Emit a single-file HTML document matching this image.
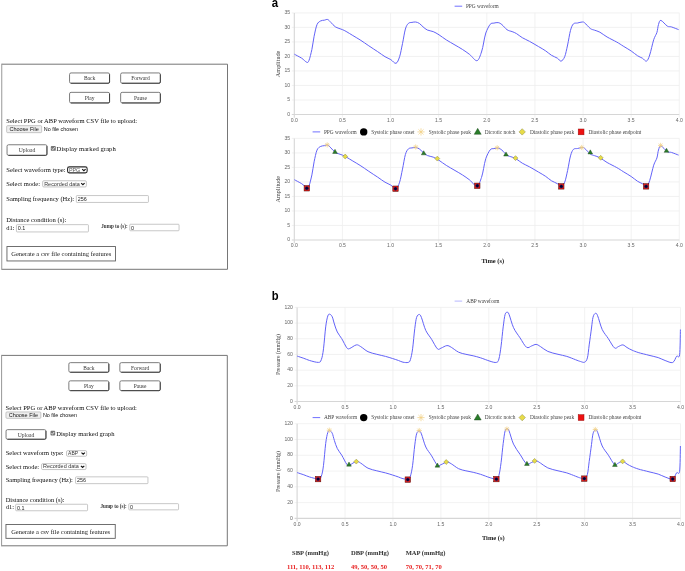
<!DOCTYPE html>
<html><head><meta charset="utf-8"><title>PPG/ABP</title><style>
*{box-sizing:border-box}
html,body{margin:0;padding:0;background:#fff;width:685px;height:571px;overflow:hidden;position:relative}
body{filter:blur(0.3px)}
#ch{position:absolute;left:0;top:0}
.tk{font-family:"Liberation Sans",sans-serif;font-size:5.1px;fill:#666}
.lg{font-family:"Liberation Serif",serif;font-size:5.35px;fill:#444}
.pl{font-family:"Liberation Sans",sans-serif;font-size:13px;font-weight:bold;fill:#000}
.yt{font-family:"Liberation Serif",serif;font-size:6.2px;fill:#444}
.yt2{font-family:"Liberation Serif",serif;font-size:5.8px;fill:#444}
.xt{font-family:"Liberation Serif",serif;font-size:6.5px;font-weight:bold;fill:#222}
.th{font-family:"Liberation Serif",serif;font-size:6.55px;font-weight:bold;fill:#333}
.td{font-family:"Liberation Serif",serif;font-size:6.55px;font-weight:bold;fill:#e82020}
.box{position:absolute;border:1px solid #8a8a8a;border-left-color:#adadad}
.t{position:absolute;font-family:"Liberation Serif",serif;white-space:nowrap;color:#0c0c0c;line-height:1}
.s{position:absolute;font-family:"Liberation Sans",sans-serif;white-space:nowrap;color:#111;line-height:1}
.btn{position:absolute;border:0.9px solid #8c8c8c;border-right-color:#3a3a3a;border-bottom-color:#3a3a3a;border-radius:1.6px;background:#fff}
.gen{position:absolute;border:0.9px solid #606060;background:#fff}
.fb{position:absolute;border:0.7px solid #b0b0b0;background:#efefef;border-radius:1px}
.inp{position:absolute;border:0.7px solid #b4b4b4;background:#fff;border-radius:0.8px}
.sel{position:absolute;border:0.7px solid #a8a8a8;background:#fff;border-radius:1.2px}
.selF{position:absolute;border:1.1px solid #2a2a2a;background:#fff;border-radius:1.8px}
.cb{position:absolute;background:#767676;border-radius:0.9px}
.in{position:absolute;white-space:nowrap;line-height:1}
.sv{position:absolute}
</style></head>
<body>
<svg class="sv" style="left:0;top:0" width="230" height="571" viewBox="0 0 230 571">
<path d="M1.75,64.20H227.50V269.30H1.75" fill="none" stroke="#767676" stroke-width="1"/>
<path d="M1.75,63.70V269.80" fill="none" stroke="#989898" stroke-width="1"/>
<rect x="69.55" y="72.95" width="40.00" height="10.30" rx="1.5" fill="#fff" stroke="#6e6e6e" stroke-width="0.9" />
<path d="M109.55,74.30V82.05Q109.55,83.25 108.35,83.25H70.90" fill="none" stroke="#3a3a3a" stroke-width="0.9"/>
<rect x="120.65" y="72.95" width="39.70" height="10.30" rx="1.5" fill="#fff" stroke="#6e6e6e" stroke-width="0.9" />
<path d="M160.35,74.30V82.05Q160.35,83.25 159.15,83.25H122.00" fill="none" stroke="#3a3a3a" stroke-width="0.9"/>
<rect x="69.55" y="92.35" width="40.00" height="10.60" rx="1.5" fill="#fff" stroke="#6e6e6e" stroke-width="0.9" />
<path d="M109.55,93.70V101.75Q109.55,102.95 108.35,102.95H70.90" fill="none" stroke="#3a3a3a" stroke-width="0.9"/>
<rect x="120.65" y="92.35" width="39.70" height="10.60" rx="1.5" fill="#fff" stroke="#6e6e6e" stroke-width="0.9" />
<path d="M160.35,93.70V101.75Q160.35,102.95 159.15,102.95H122.00" fill="none" stroke="#3a3a3a" stroke-width="0.9"/>
<rect x="7.05" y="144.75" width="39.90" height="10.60" rx="1.5" fill="#fff" stroke="#6e6e6e" stroke-width="0.9" />
<path d="M46.95,146.10V154.15Q46.95,155.35 45.75,155.35H8.40" fill="none" stroke="#3a3a3a" stroke-width="0.9"/>
<rect x="6.95" y="246.55" width="108.60" height="14.40" rx="0" fill="#fff" stroke="#606060" stroke-width="0.9" />
<rect x="6.65" y="125.65" width="35.00" height="7.00" rx="1" fill="#efefef" stroke="#b0b0b0" stroke-width="0.7" />
<rect x="76.35" y="195.55" width="72.10" height="6.90" rx="0.8" fill="#fff" stroke="#b0b0b0" stroke-width="0.7" />
<rect x="16.45" y="224.65" width="72.00" height="7.30" rx="0.8" fill="#fff" stroke="#b0b0b0" stroke-width="0.7" />
<rect x="129.75" y="224.25" width="49.30" height="6.50" rx="0.8" fill="#fff" stroke="#b0b0b0" stroke-width="0.7" />
<rect x="67.55" y="166.85" width="19.60" height="6.00" rx="1.8" fill="#fff" stroke="#2a2a2a" stroke-width="1.1" />
<polyline points="82.20,169.05 83.90,170.65 85.60,169.05" stroke="#111" stroke-width="1.15" fill="none"/>
<rect x="42.65" y="180.75" width="43.70" height="6.20" rx="1.2" fill="#fff" stroke="#aaaaaa" stroke-width="0.7" />
<polyline points="81.20,183.05 82.90,184.65 84.60,183.05" stroke="#111" stroke-width="1.15" fill="none"/>
<rect x="50.8" y="146.1" width="5.00" height="4.70" rx="0.9" fill="#767676"/>
<polyline points="51.90,148.54 52.90,149.58 54.70,147.28" stroke="#fff" stroke-width="0.8" fill="none"/>
<path d="M1.60,355.40H227.30V545.80H1.60" fill="none" stroke="#767676" stroke-width="1"/>
<path d="M1.60,354.90V546.30" fill="none" stroke="#989898" stroke-width="1"/>
<rect x="68.85" y="362.65" width="40.00" height="9.60" rx="1.5" fill="#fff" stroke="#6e6e6e" stroke-width="0.9" />
<path d="M108.85,364.00V371.05Q108.85,372.25 107.65,372.25H70.20" fill="none" stroke="#3a3a3a" stroke-width="0.9"/>
<rect x="119.85" y="362.65" width="40.40" height="9.60" rx="1.5" fill="#fff" stroke="#6e6e6e" stroke-width="0.9" />
<path d="M160.25,364.00V371.05Q160.25,372.25 159.05,372.25H121.20" fill="none" stroke="#3a3a3a" stroke-width="0.9"/>
<rect x="68.85" y="380.85" width="40.00" height="9.80" rx="1.5" fill="#fff" stroke="#6e6e6e" stroke-width="0.9" />
<path d="M108.85,382.20V389.45Q108.85,390.65 107.65,390.65H70.20" fill="none" stroke="#3a3a3a" stroke-width="0.9"/>
<rect x="119.85" y="380.85" width="40.40" height="9.80" rx="1.5" fill="#fff" stroke="#6e6e6e" stroke-width="0.9" />
<path d="M160.25,382.20V389.45Q160.25,390.65 159.05,390.65H121.20" fill="none" stroke="#3a3a3a" stroke-width="0.9"/>
<rect x="6.05" y="429.65" width="39.90" height="9.60" rx="1.5" fill="#fff" stroke="#6e6e6e" stroke-width="0.9" />
<path d="M45.95,431.00V438.05Q45.95,439.25 44.75,439.25H7.40" fill="none" stroke="#3a3a3a" stroke-width="0.9"/>
<rect x="5.95" y="524.55" width="109.30" height="13.80" rx="0" fill="#fff" stroke="#606060" stroke-width="0.9" />
<rect x="5.95" y="411.95" width="34.90" height="6.40" rx="1" fill="#efefef" stroke="#b0b0b0" stroke-width="0.7" />
<rect x="75.55" y="476.85" width="72.40" height="6.80" rx="0.8" fill="#fff" stroke="#b0b0b0" stroke-width="0.7" />
<rect x="15.65" y="504.25" width="71.90" height="6.50" rx="0.8" fill="#fff" stroke="#b0b0b0" stroke-width="0.7" />
<rect x="128.75" y="503.65" width="49.80" height="6.20" rx="0.8" fill="#fff" stroke="#b0b0b0" stroke-width="0.7" />
<rect x="66.55" y="450.65" width="20.10" height="5.60" rx="1.2" fill="#fff" stroke="#aaaaaa" stroke-width="0.7" />
<polyline points="81.50,452.65 83.20,454.25 84.90,452.65" stroke="#111" stroke-width="1.15" fill="none"/>
<rect x="41.55" y="463.65" width="44.50" height="5.90" rx="1.2" fill="#fff" stroke="#aaaaaa" stroke-width="0.7" />
<polyline points="80.90,465.80 82.60,467.40 84.30,465.80" stroke="#111" stroke-width="1.15" fill="none"/>
<rect x="50.5" y="430.8" width="4.70" height="4.70" rx="0.9" fill="#767676"/>
<polyline points="51.53,433.24 52.47,434.28 54.17,431.98" stroke="#fff" stroke-width="0.8" fill="none"/>
</svg>
<div class="in" style="left:69.10px;top:75.32px;width:40.90px;text-align:center;font:normal 5.5px 'Liberation Serif',serif;color:#333">Back</div>
<div class="in" style="left:120.20px;top:75.32px;width:40.60px;text-align:center;font:normal 5.5px 'Liberation Serif',serif;color:#333">Forward</div>
<div class="in" style="left:69.10px;top:94.87px;width:40.90px;text-align:center;font:normal 5.5px 'Liberation Serif',serif;color:#333">Play</div>
<div class="in" style="left:120.20px;top:94.87px;width:40.60px;text-align:center;font:normal 5.5px 'Liberation Serif',serif;color:#333">Pause</div>
<div class="in" style="left:6.60px;top:147.22px;width:40.80px;text-align:center;font:normal 5.6px 'Liberation Serif',serif;color:#333">Upload</div>
<div class="in" style="left:6.50px;top:250.45px;width:109.50px;text-align:center;font:normal 6.53px 'Liberation Serif',serif;color:#222">Generate a csv file containing features</div>
<div class="t" style="left:6.3px;top:117.9px;font-size:6.53px">Select PPG or ABP waveform CSV file to upload:</div>
<div class="s" style="left:43.8px;top:127.0px;font-size:5.4px">No file chosen</div>
<div class="t" style="left:56.6px;top:145.6px;font-size:6.66px">Display marked graph</div>
<div class="t" style="left:6.3px;top:166.6px;font-size:6.6px">Select waveform type:</div>
<div class="t" style="left:6.3px;top:181.2px;font-size:6.5px">Select mode:</div>
<div class="t" style="left:6.3px;top:195.7px;font-size:6.5px">Sampling frequency (Hz):</div>
<div class="t" style="left:6.3px;top:216.9px;font-size:6.58px">Distance condition (s):</div>
<div class="t" style="left:6.3px;top:225.0px;font-size:6.5px">d1:</div>
<div class="t" style="left:101.3px;top:224.4px;font-size:5.1px;font-weight:bold;color:#333">Jump to (s):</div>
<div class="in" style="left:6.30px;top:125.90px;width:35.70px;text-align:center;font:normal 5.5px 'Liberation Sans',sans-serif;color:#111">Choose File</div>
<div class="in" style="left:77.70px;top:196.10px;font:normal 5.4px 'Liberation Sans',sans-serif;color:#222">256</div>
<div class="in" style="left:17.80px;top:225.40px;font:normal 5.4px 'Liberation Sans',sans-serif;color:#222">0.1</div>
<div class="in" style="left:131.10px;top:224.60px;font:normal 5.4px 'Liberation Sans',sans-serif;color:#222">0</div>
<div class="in" style="left:68.90px;top:166.75px;font:normal 5.4px 'Liberation Sans',sans-serif;color:#555">PPG</div>
<div class="in" style="left:44.20px;top:180.72px;font:normal 5.45px 'Liberation Sans',sans-serif;color:#333">Recorded data</div>
<div class="in" style="left:68.40px;top:364.72px;width:40.90px;text-align:center;font:normal 5.4px 'Liberation Serif',serif;color:#333">Back</div>
<div class="in" style="left:119.40px;top:364.72px;width:41.30px;text-align:center;font:normal 5.4px 'Liberation Serif',serif;color:#333">Forward</div>
<div class="in" style="left:68.40px;top:383.02px;width:40.90px;text-align:center;font:normal 5.4px 'Liberation Serif',serif;color:#333">Play</div>
<div class="in" style="left:119.40px;top:383.02px;width:41.30px;text-align:center;font:normal 5.4px 'Liberation Serif',serif;color:#333">Pause</div>
<div class="in" style="left:5.60px;top:431.62px;width:40.80px;text-align:center;font:normal 5.6px 'Liberation Serif',serif;color:#333">Upload</div>
<div class="in" style="left:5.50px;top:528.19px;width:110.20px;text-align:center;font:normal 6.45px 'Liberation Serif',serif;color:#222">Generate a csv file containing features</div>
<div class="t" style="left:5.6px;top:404.6px;font-size:6.55px">Select PPG or ABP waveform CSV file to upload:</div>
<div class="s" style="left:42.9px;top:413.2px;font-size:5.4px">No file chosen</div>
<div class="t" style="left:56.2px;top:430.6px;font-size:6.57px">Display marked graph</div>
<div class="t" style="left:5.7px;top:450.3px;font-size:6.45px">Select waveform type:</div>
<div class="t" style="left:5.7px;top:463.7px;font-size:6.45px">Select mode:</div>
<div class="t" style="left:5.7px;top:477px;font-size:6.45px">Sampling frequency (Hz):</div>
<div class="t" style="left:5.7px;top:497.2px;font-size:6.45px">Distance condition (s):</div>
<div class="t" style="left:5.7px;top:504.4px;font-size:6.45px">d1:</div>
<div class="t" style="left:100.5px;top:504.0px;font-size:5.1px;font-weight:bold;color:#333">Jump to (s):</div>
<div class="in" style="left:5.60px;top:411.90px;width:35.60px;text-align:center;font:normal 5.5px 'Liberation Sans',sans-serif;color:#111">Choose File</div>
<div class="in" style="left:76.90px;top:477.35px;font:normal 5.4px 'Liberation Sans',sans-serif;color:#222">256</div>
<div class="in" style="left:17.00px;top:504.60px;font:normal 5.4px 'Liberation Sans',sans-serif;color:#222">0.1</div>
<div class="in" style="left:130.10px;top:503.85px;font:normal 5.4px 'Liberation Sans',sans-serif;color:#222">0</div>
<div class="in" style="left:68.10px;top:449.94px;font:normal 5.0px 'Liberation Sans',sans-serif;color:#333">ABP</div>
<div class="in" style="left:43.10px;top:463.47px;font:normal 5.45px 'Liberation Sans',sans-serif;color:#333">Recorded data</div>
<svg id="ch" width="685" height="571" viewBox="0 0 685 571">
<defs><clipPath id="ca"><rect x="294" y="0" width="386" height="571"/></clipPath><clipPath id="cb"><rect x="297" y="0" width="384" height="571"/></clipPath></defs>
<text transform="translate(271.8,7.3) scale(0.88,1)" class="pl">a</text>
<text transform="translate(271.8,299.8) scale(0.86,1.05)" class="pl">b</text>
<line x1="291.8" x2="679.3" y1="12.90" y2="12.90" stroke="#efefef" stroke-width="0.8"/>
<text x="290.1" y="14.05" class="tk" text-anchor="end">35</text>
<line x1="291.8" x2="679.3" y1="27.41" y2="27.41" stroke="#efefef" stroke-width="0.8"/>
<text x="290.1" y="28.56" class="tk" text-anchor="end">30</text>
<line x1="291.8" x2="679.3" y1="41.93" y2="41.93" stroke="#efefef" stroke-width="0.8"/>
<text x="290.1" y="43.08" class="tk" text-anchor="end">25</text>
<line x1="291.8" x2="679.3" y1="56.44" y2="56.44" stroke="#efefef" stroke-width="0.8"/>
<text x="290.1" y="57.59" class="tk" text-anchor="end">20</text>
<line x1="291.8" x2="679.3" y1="70.96" y2="70.96" stroke="#efefef" stroke-width="0.8"/>
<text x="290.1" y="72.11" class="tk" text-anchor="end">15</text>
<line x1="291.8" x2="679.3" y1="85.47" y2="85.47" stroke="#efefef" stroke-width="0.8"/>
<text x="290.1" y="86.62" class="tk" text-anchor="end">10</text>
<line x1="291.8" x2="679.3" y1="99.99" y2="99.99" stroke="#efefef" stroke-width="0.8"/>
<text x="290.1" y="101.14" class="tk" text-anchor="end">5</text>
<text x="290.1" y="115.65" class="tk" text-anchor="end">0</text>
<line x1="342.43" x2="342.43" y1="12.9" y2="117.5" stroke="#efefef" stroke-width="0.8"/>
<line x1="390.55" x2="390.55" y1="12.9" y2="117.5" stroke="#efefef" stroke-width="0.8"/>
<line x1="438.67" x2="438.67" y1="12.9" y2="117.5" stroke="#efefef" stroke-width="0.8"/>
<line x1="486.80" x2="486.80" y1="12.9" y2="117.5" stroke="#efefef" stroke-width="0.8"/>
<line x1="534.92" x2="534.92" y1="12.9" y2="117.5" stroke="#efefef" stroke-width="0.8"/>
<line x1="583.05" x2="583.05" y1="12.9" y2="117.5" stroke="#efefef" stroke-width="0.8"/>
<line x1="631.17" x2="631.17" y1="12.9" y2="117.5" stroke="#efefef" stroke-width="0.8"/>
<line x1="679.30" x2="679.30" y1="12.9" y2="117.5" stroke="#efefef" stroke-width="0.8"/>
<text x="294.30" y="121.85" class="tk" text-anchor="middle">0.0</text>
<text x="342.43" y="121.85" class="tk" text-anchor="middle">0.5</text>
<text x="390.55" y="121.85" class="tk" text-anchor="middle">1.0</text>
<text x="438.67" y="121.85" class="tk" text-anchor="middle">1.5</text>
<text x="486.80" y="121.85" class="tk" text-anchor="middle">2.0</text>
<text x="534.92" y="121.85" class="tk" text-anchor="middle">2.5</text>
<text x="583.05" y="121.85" class="tk" text-anchor="middle">3.0</text>
<text x="631.17" y="121.85" class="tk" text-anchor="middle">3.5</text>
<text x="679.30" y="121.85" class="tk" text-anchor="middle">4.0</text>
<line x1="291.8" x2="679.3" y1="114.50" y2="114.50" stroke="#d6d6d6" stroke-width="1.1"/>
<line x1="294.30" x2="294.30" y1="12.9" y2="117.7" stroke="#d6d6d6" stroke-width="1.1"/>
<line x1="291.8" x2="679.3" y1="138.40" y2="138.40" stroke="#efefef" stroke-width="0.8"/>
<text x="290.1" y="139.55" class="tk" text-anchor="end">35</text>
<line x1="291.8" x2="679.3" y1="152.91" y2="152.91" stroke="#efefef" stroke-width="0.8"/>
<text x="290.1" y="154.06" class="tk" text-anchor="end">30</text>
<line x1="291.8" x2="679.3" y1="167.43" y2="167.43" stroke="#efefef" stroke-width="0.8"/>
<text x="290.1" y="168.58" class="tk" text-anchor="end">25</text>
<line x1="291.8" x2="679.3" y1="181.94" y2="181.94" stroke="#efefef" stroke-width="0.8"/>
<text x="290.1" y="183.09" class="tk" text-anchor="end">20</text>
<line x1="291.8" x2="679.3" y1="196.46" y2="196.46" stroke="#efefef" stroke-width="0.8"/>
<text x="290.1" y="197.61" class="tk" text-anchor="end">15</text>
<line x1="291.8" x2="679.3" y1="210.97" y2="210.97" stroke="#efefef" stroke-width="0.8"/>
<text x="290.1" y="212.12" class="tk" text-anchor="end">10</text>
<line x1="291.8" x2="679.3" y1="225.49" y2="225.49" stroke="#efefef" stroke-width="0.8"/>
<text x="290.1" y="226.64" class="tk" text-anchor="end">5</text>
<text x="290.1" y="241.15" class="tk" text-anchor="end">0</text>
<line x1="342.43" x2="342.43" y1="138.4" y2="243.0" stroke="#efefef" stroke-width="0.8"/>
<line x1="390.55" x2="390.55" y1="138.4" y2="243.0" stroke="#efefef" stroke-width="0.8"/>
<line x1="438.67" x2="438.67" y1="138.4" y2="243.0" stroke="#efefef" stroke-width="0.8"/>
<line x1="486.80" x2="486.80" y1="138.4" y2="243.0" stroke="#efefef" stroke-width="0.8"/>
<line x1="534.92" x2="534.92" y1="138.4" y2="243.0" stroke="#efefef" stroke-width="0.8"/>
<line x1="583.05" x2="583.05" y1="138.4" y2="243.0" stroke="#efefef" stroke-width="0.8"/>
<line x1="631.17" x2="631.17" y1="138.4" y2="243.0" stroke="#efefef" stroke-width="0.8"/>
<line x1="679.30" x2="679.30" y1="138.4" y2="243.0" stroke="#efefef" stroke-width="0.8"/>
<text x="294.30" y="247.35" class="tk" text-anchor="middle">0.0</text>
<text x="342.43" y="247.35" class="tk" text-anchor="middle">0.5</text>
<text x="390.55" y="247.35" class="tk" text-anchor="middle">1.0</text>
<text x="438.67" y="247.35" class="tk" text-anchor="middle">1.5</text>
<text x="486.80" y="247.35" class="tk" text-anchor="middle">2.0</text>
<text x="534.92" y="247.35" class="tk" text-anchor="middle">2.5</text>
<text x="583.05" y="247.35" class="tk" text-anchor="middle">3.0</text>
<text x="631.17" y="247.35" class="tk" text-anchor="middle">3.5</text>
<text x="679.30" y="247.35" class="tk" text-anchor="middle">4.0</text>
<line x1="291.8" x2="679.3" y1="240.00" y2="240.00" stroke="#d6d6d6" stroke-width="1.1"/>
<line x1="294.30" x2="294.30" y1="138.4" y2="243.2" stroke="#d6d6d6" stroke-width="1.1"/>
<line x1="294.6" x2="680.5" y1="307.40" y2="307.40" stroke="#efefef" stroke-width="0.8"/>
<text x="292.9" y="308.55" class="tk" text-anchor="end">120</text>
<line x1="294.6" x2="680.5" y1="323.09" y2="323.09" stroke="#efefef" stroke-width="0.8"/>
<text x="292.9" y="324.24" class="tk" text-anchor="end">100</text>
<line x1="294.6" x2="680.5" y1="338.78" y2="338.78" stroke="#efefef" stroke-width="0.8"/>
<text x="292.9" y="339.93" class="tk" text-anchor="end">80</text>
<line x1="294.6" x2="680.5" y1="354.48" y2="354.48" stroke="#efefef" stroke-width="0.8"/>
<text x="292.9" y="355.62" class="tk" text-anchor="end">60</text>
<line x1="294.6" x2="680.5" y1="370.17" y2="370.17" stroke="#efefef" stroke-width="0.8"/>
<text x="292.9" y="371.32" class="tk" text-anchor="end">40</text>
<line x1="294.6" x2="680.5" y1="385.86" y2="385.86" stroke="#efefef" stroke-width="0.8"/>
<text x="292.9" y="387.01" class="tk" text-anchor="end">20</text>
<text x="292.9" y="402.70" class="tk" text-anchor="end">0</text>
<line x1="345.03" x2="345.03" y1="307.4" y2="404.6" stroke="#efefef" stroke-width="0.8"/>
<line x1="392.95" x2="392.95" y1="307.4" y2="404.6" stroke="#efefef" stroke-width="0.8"/>
<line x1="440.88" x2="440.88" y1="307.4" y2="404.6" stroke="#efefef" stroke-width="0.8"/>
<line x1="488.80" x2="488.80" y1="307.4" y2="404.6" stroke="#efefef" stroke-width="0.8"/>
<line x1="536.73" x2="536.73" y1="307.4" y2="404.6" stroke="#efefef" stroke-width="0.8"/>
<line x1="584.65" x2="584.65" y1="307.4" y2="404.6" stroke="#efefef" stroke-width="0.8"/>
<line x1="632.58" x2="632.58" y1="307.4" y2="404.6" stroke="#efefef" stroke-width="0.8"/>
<line x1="680.50" x2="680.50" y1="307.4" y2="404.6" stroke="#efefef" stroke-width="0.8"/>
<text x="297.10" y="408.90" class="tk" text-anchor="middle">0.0</text>
<text x="345.03" y="408.90" class="tk" text-anchor="middle">0.5</text>
<text x="392.95" y="408.90" class="tk" text-anchor="middle">1.0</text>
<text x="440.88" y="408.90" class="tk" text-anchor="middle">1.5</text>
<text x="488.80" y="408.90" class="tk" text-anchor="middle">2.0</text>
<text x="536.73" y="408.90" class="tk" text-anchor="middle">2.5</text>
<text x="584.65" y="408.90" class="tk" text-anchor="middle">3.0</text>
<text x="632.58" y="408.90" class="tk" text-anchor="middle">3.5</text>
<text x="680.50" y="408.90" class="tk" text-anchor="middle">4.0</text>
<line x1="294.6" x2="680.5" y1="401.55" y2="401.55" stroke="#d6d6d6" stroke-width="1.1"/>
<line x1="297.10" x2="297.10" y1="307.4" y2="404.8" stroke="#d6d6d6" stroke-width="1.1"/>
<line x1="294.6" x2="680.5" y1="423.70" y2="423.70" stroke="#efefef" stroke-width="0.8"/>
<text x="292.9" y="424.85" class="tk" text-anchor="end">120</text>
<line x1="294.6" x2="680.5" y1="439.48" y2="439.48" stroke="#efefef" stroke-width="0.8"/>
<text x="292.9" y="440.63" class="tk" text-anchor="end">100</text>
<line x1="294.6" x2="680.5" y1="455.27" y2="455.27" stroke="#efefef" stroke-width="0.8"/>
<text x="292.9" y="456.42" class="tk" text-anchor="end">80</text>
<line x1="294.6" x2="680.5" y1="471.05" y2="471.05" stroke="#efefef" stroke-width="0.8"/>
<text x="292.9" y="472.20" class="tk" text-anchor="end">60</text>
<line x1="294.6" x2="680.5" y1="486.83" y2="486.83" stroke="#efefef" stroke-width="0.8"/>
<text x="292.9" y="487.98" class="tk" text-anchor="end">40</text>
<line x1="294.6" x2="680.5" y1="502.62" y2="502.62" stroke="#efefef" stroke-width="0.8"/>
<text x="292.9" y="503.77" class="tk" text-anchor="end">20</text>
<text x="292.9" y="519.55" class="tk" text-anchor="end">0</text>
<line x1="345.03" x2="345.03" y1="423.7" y2="521.4" stroke="#efefef" stroke-width="0.8"/>
<line x1="392.95" x2="392.95" y1="423.7" y2="521.4" stroke="#efefef" stroke-width="0.8"/>
<line x1="440.88" x2="440.88" y1="423.7" y2="521.4" stroke="#efefef" stroke-width="0.8"/>
<line x1="488.80" x2="488.80" y1="423.7" y2="521.4" stroke="#efefef" stroke-width="0.8"/>
<line x1="536.73" x2="536.73" y1="423.7" y2="521.4" stroke="#efefef" stroke-width="0.8"/>
<line x1="584.65" x2="584.65" y1="423.7" y2="521.4" stroke="#efefef" stroke-width="0.8"/>
<line x1="632.58" x2="632.58" y1="423.7" y2="521.4" stroke="#efefef" stroke-width="0.8"/>
<line x1="680.50" x2="680.50" y1="423.7" y2="521.4" stroke="#efefef" stroke-width="0.8"/>
<text x="297.10" y="525.75" class="tk" text-anchor="middle">0.0</text>
<text x="345.03" y="525.75" class="tk" text-anchor="middle">0.5</text>
<text x="392.95" y="525.75" class="tk" text-anchor="middle">1.0</text>
<text x="440.88" y="525.75" class="tk" text-anchor="middle">1.5</text>
<text x="488.80" y="525.75" class="tk" text-anchor="middle">2.0</text>
<text x="536.73" y="525.75" class="tk" text-anchor="middle">2.5</text>
<text x="584.65" y="525.75" class="tk" text-anchor="middle">3.0</text>
<text x="632.58" y="525.75" class="tk" text-anchor="middle">3.5</text>
<text x="680.50" y="525.75" class="tk" text-anchor="middle">4.0</text>
<line x1="294.6" x2="680.5" y1="518.40" y2="518.40" stroke="#d6d6d6" stroke-width="1.1"/>
<line x1="297.10" x2="297.10" y1="423.7" y2="521.6" stroke="#d6d6d6" stroke-width="1.1"/>
<line x1="454.6" x2="462.2" y1="6.2" y2="6.2" stroke="#7070ff" stroke-width="1"/><text x="465.9" y="7.9" class="lg">PPG waveform</text>
<line x1="454.6" x2="462.2" y1="301.1" y2="301.1" stroke="#b8b8ff" stroke-width="1"/><text x="466.3" y="302.9" class="lg">ABP waveform</text>
<line x1="312.6" x2="320.2" y1="131.9" y2="131.9" stroke="#7070ff" stroke-width="1"/>
<text x="323.9" y="133.70000000000002" class="lg">PPG waveform</text>
<circle cx="363.7" cy="131.9" r="3.7" fill="#000"/>
<text x="371.2" y="133.70000000000002" class="lg">Systolic phase onset</text>
<path d="M417.40,131.90L424.60,131.90M418.45,129.35L423.55,134.45M421.00,128.30L421.00,135.50M423.55,129.35L418.45,134.45" stroke="#f0cf80" stroke-width="0.7" fill="none"/>
<text x="428.7" y="133.70000000000002" class="lg">Systolic phase peak</text>
<path d="M477.70,128.30L481.20,134.30L474.20,134.30Z" fill="#2a7d2a" stroke="#173f17" stroke-width="0.4"/>
<text x="484.7" y="133.70000000000002" class="lg">Dicrotic notch</text>
<path d="M522.20,128.70L525.40,131.90L522.20,135.10L519.00,131.90Z" fill="#e8dc48" stroke="#8a8a40" stroke-width="0.5"/>
<text x="529.9" y="133.70000000000002" class="lg">Diastolic phase peak</text>
<rect x="578.2" y="129.0" width="5.8" height="5.8" fill="#ee1111" stroke="#991111" stroke-width="0.5"/>
<text x="588.5" y="133.70000000000002" class="lg">Diastolic phase endpoint</text>
<line x1="312.6" x2="320.2" y1="417.6" y2="417.6" stroke="#7070ff" stroke-width="1"/>
<text x="323.9" y="419.40000000000003" class="lg">ABP waveform</text>
<circle cx="363.7" cy="417.6" r="3.7" fill="#000"/>
<text x="371.2" y="419.40000000000003" class="lg">Systolic phase onset</text>
<path d="M417.40,417.60L424.60,417.60M418.45,415.05L423.55,420.15M421.00,414.00L421.00,421.20M423.55,415.05L418.45,420.15" stroke="#f0cf80" stroke-width="0.7" fill="none"/>
<text x="428.7" y="419.40000000000003" class="lg">Systolic phase peak</text>
<path d="M477.70,414.00L481.20,420.00L474.20,420.00Z" fill="#2a7d2a" stroke="#173f17" stroke-width="0.4"/>
<text x="484.7" y="419.40000000000003" class="lg">Dicrotic notch</text>
<path d="M522.20,414.40L525.40,417.60L522.20,420.80L519.00,417.60Z" fill="#e8dc48" stroke="#8a8a40" stroke-width="0.5"/>
<text x="529.9" y="419.40000000000003" class="lg">Diastolic phase peak</text>
<rect x="578.2" y="414.70000000000005" width="5.8" height="5.8" fill="#ee1111" stroke="#991111" stroke-width="0.5"/>
<text x="588.5" y="419.40000000000003" class="lg">Diastolic phase endpoint</text>
<text transform="translate(279.9,189.2) rotate(-90)" class="yt" text-anchor="middle">Amplitude</text>
<text transform="translate(279.9,63.9) rotate(-90)" class="yt" text-anchor="middle">Amplitude</text>
<text transform="translate(279.7,354.5) rotate(-90)" class="yt2" text-anchor="middle">Pressure (mmHg)</text>
<text transform="translate(279.7,471.5) rotate(-90)" class="yt2" text-anchor="middle">Pressure (mmHg)</text>
<text x="492.8" y="262.7" class="xt" text-anchor="middle">Time (s)</text>
<text x="493.3" y="539.5" class="xt" text-anchor="middle">Time (s)</text>
<path id="ppg" d="M294.4,54.2C295.6,54.9 299.6,56.9 301.7,58.2C303.8,59.6 305.6,61.9 306.8,62.3C308.0,62.7 308.1,62.5 309.0,60.4C309.9,58.2 311.0,53.4 311.9,49.4C312.8,45.4 313.2,40.4 314.1,36.3C315.0,32.2 315.9,27.2 317.0,24.6C318.1,22.0 319.5,21.6 320.7,20.9C321.9,20.2 323.1,20.4 324.3,20.2C325.5,20.0 326.6,19.1 327.7,19.5C328.8,19.9 329.6,21.2 330.9,22.4C332.2,23.6 333.4,25.6 335.3,26.8C337.2,28.0 340.7,28.9 342.6,29.7C344.5,30.5 345.2,30.9 346.9,31.9C348.6,32.9 350.6,34.2 352.8,35.5C355.0,36.8 357.4,38.2 360.1,39.9C362.8,41.6 365.9,43.8 368.8,45.8C371.7,47.8 374.9,49.8 377.6,51.6C380.3,53.4 382.8,55.4 385.0,56.7C387.2,58.0 389.0,58.5 390.8,59.6C392.6,60.7 394.5,63.8 396.0,63.3C397.5,62.8 398.5,60.0 399.6,56.7C400.7,53.4 401.5,48.2 402.5,43.6C403.5,39.0 404.4,32.4 405.4,29.0C406.4,25.6 407.3,24.5 408.4,23.4C409.5,22.3 410.8,22.6 412.0,22.4C413.2,22.2 414.5,21.8 415.7,22.0C416.9,22.2 418.1,22.6 419.3,23.4C420.5,24.2 421.7,25.7 423.0,26.8C424.3,27.9 425.6,29.2 427.3,30.0C429.0,30.8 431.2,30.8 433.2,31.6C435.1,32.4 436.8,33.4 439.0,34.8C441.2,36.2 443.6,38.2 446.3,39.9C449.0,41.6 452.3,43.4 455.0,45.0C457.7,46.6 459.9,47.8 462.4,49.4C464.8,51.0 467.3,52.6 469.7,54.5C472.1,56.4 475.0,61.1 477.0,60.7C479.0,60.3 480.4,55.0 481.5,52.0C482.6,49.0 482.9,46.2 483.6,43.0C484.3,39.8 484.7,36.1 485.8,33.0C486.9,29.9 488.9,25.9 490.2,24.3C491.5,22.7 492.6,23.4 493.9,23.1C495.2,22.8 496.9,22.4 498.2,22.6C499.5,22.9 500.4,23.4 501.9,24.6C503.4,25.8 505.3,28.5 507.0,29.7C508.7,30.9 510.5,31.0 512.1,31.6C513.7,32.2 514.8,32.6 516.5,33.6C518.2,34.6 520.1,36.4 522.3,37.7C524.5,39.0 526.9,39.9 529.6,41.4C532.3,42.9 535.7,44.9 538.4,46.5C541.1,48.1 543.5,49.4 545.7,50.9C547.9,52.4 549.5,54.1 551.5,55.3C553.5,56.5 555.8,57.2 557.4,58.2C559.0,59.2 559.8,61.4 561.0,61.1C562.2,60.9 563.6,59.4 564.7,56.7C565.8,54.0 566.6,49.4 567.6,45.0C568.6,40.6 569.5,33.9 570.5,30.4C571.5,26.9 572.2,25.1 573.4,23.9C574.6,22.7 576.0,23.3 577.5,23.0C579.0,22.7 581.0,22.0 582.2,22.0C583.4,22.0 583.2,21.7 584.6,22.8C586.0,23.9 588.7,27.3 590.3,28.5C591.9,29.7 592.7,29.5 594.3,30.1C595.9,30.7 597.8,31.1 599.9,32.2C602.0,33.4 604.3,35.4 607.1,37.0C609.9,38.6 614.1,40.6 616.8,42.1C619.5,43.6 620.8,44.6 623.2,46.1C625.6,47.6 628.8,49.4 631.2,51.0C633.6,52.6 635.7,54.6 637.6,55.8C639.5,57.0 640.9,57.3 642.4,58.2C643.9,59.1 645.3,61.6 646.5,61.1C647.7,60.6 648.5,58.6 649.7,55.0C650.9,51.4 652.5,43.5 653.7,39.7C654.9,36.0 656.1,35.0 656.9,32.5C657.7,30.0 657.8,26.5 658.5,24.5C659.2,22.5 659.4,20.1 660.9,20.4C662.4,20.7 665.5,25.0 667.3,26.1C669.0,27.2 669.5,26.3 671.4,26.9C673.3,27.5 677.4,29.2 678.6,29.6" fill="none" stroke="#6262f8" stroke-width="1" clip-path="url(#ca)"/>
<use href="#ppg" transform="translate(0,125.5)"/>
<rect x="304.10" y="185.60" width="5.4" height="5.4" fill="#ee1a0a" stroke="#5a1010" stroke-width="0.55"/><circle cx="306.80" cy="188.30" r="1.7" fill="#00002a" stroke="#2a2aa0" stroke-width="0.4"/>
<rect x="392.80" y="186.00" width="5.4" height="5.4" fill="#ee1a0a" stroke="#5a1010" stroke-width="0.55"/><circle cx="395.50" cy="188.70" r="1.7" fill="#00002a" stroke="#2a2aa0" stroke-width="0.4"/>
<rect x="474.60" y="183.10" width="5.4" height="5.4" fill="#ee1a0a" stroke="#5a1010" stroke-width="0.55"/><circle cx="477.30" cy="185.80" r="1.7" fill="#00002a" stroke="#2a2aa0" stroke-width="0.4"/>
<rect x="558.60" y="183.70" width="5.4" height="5.4" fill="#ee1a0a" stroke="#5a1010" stroke-width="0.55"/><circle cx="561.30" cy="186.40" r="1.7" fill="#00002a" stroke="#2a2aa0" stroke-width="0.4"/>
<rect x="643.40" y="183.70" width="5.4" height="5.4" fill="#ee1a0a" stroke="#5a1010" stroke-width="0.55"/><circle cx="646.10" cy="186.40" r="1.7" fill="#00002a" stroke="#2a2aa0" stroke-width="0.4"/>
<path d="M324.60,144.90L329.80,144.90M325.36,143.06L329.04,146.74M327.20,142.30L327.20,147.50M329.04,143.06L325.36,146.74" stroke="#f0cf80" stroke-width="0.7" fill="none"/>
<path d="M413.10,147.00L418.30,147.00M413.86,145.16L417.54,148.84M415.70,144.40L415.70,149.60M417.54,145.16L413.86,148.84" stroke="#f0cf80" stroke-width="0.7" fill="none"/>
<path d="M494.60,147.80L499.80,147.80M495.36,145.96L499.04,149.64M497.20,145.20L497.20,150.40M499.04,145.96L495.36,149.64" stroke="#f0cf80" stroke-width="0.7" fill="none"/>
<path d="M579.10,147.50L584.30,147.50M579.86,145.66L583.54,149.34M581.70,144.90L581.70,150.10M583.54,145.66L579.86,149.34" stroke="#f0cf80" stroke-width="0.7" fill="none"/>
<path d="M658.00,145.40L663.20,145.40M658.76,143.56L662.44,147.24M660.60,142.80L660.60,148.00M662.44,143.56L658.76,147.24" stroke="#f0cf80" stroke-width="0.7" fill="none"/>
<path d="M335.00,149.34L337.35,153.44L332.65,153.44Z" fill="#2a7d2a" stroke="#173f17" stroke-width="0.4"/>
<path d="M423.70,150.74L426.05,154.84L421.35,154.84Z" fill="#2a7d2a" stroke="#173f17" stroke-width="0.4"/>
<path d="M506.00,151.94L508.35,156.04L503.65,156.04Z" fill="#2a7d2a" stroke="#173f17" stroke-width="0.4"/>
<path d="M590.30,149.84L592.65,153.94L587.95,153.94Z" fill="#2a7d2a" stroke="#173f17" stroke-width="0.4"/>
<path d="M666.50,148.24L668.85,152.34L664.15,152.34Z" fill="#2a7d2a" stroke="#173f17" stroke-width="0.4"/>
<path d="M345.20,154.05L347.65,156.50L345.20,158.95L342.75,156.50Z" fill="#e8dc48" stroke="#8a8a40" stroke-width="0.5"/>
<path d="M437.30,156.15L439.75,158.60L437.30,161.05L434.85,158.60Z" fill="#e8dc48" stroke="#8a8a40" stroke-width="0.5"/>
<path d="M515.50,155.65L517.95,158.10L515.50,160.55L513.05,158.10Z" fill="#e8dc48" stroke="#8a8a40" stroke-width="0.5"/>
<path d="M600.70,155.35L603.15,157.80L600.70,160.25L598.25,157.80Z" fill="#e8dc48" stroke="#8a8a40" stroke-width="0.5"/>
<path id="abp" d="M297.2,356.1C298.3,356.5 301.7,357.6 303.8,358.3C305.9,359.0 307.2,359.8 309.6,360.5C312.0,361.2 316.4,362.5 318.4,362.4C320.3,362.3 320.4,362.0 321.3,359.7C322.2,357.4 322.8,354.3 323.5,348.8C324.2,343.3 325.0,332.4 325.7,326.9C326.4,321.4 327.1,318.1 327.8,316.0C328.5,313.9 329.0,314.1 329.7,314.2C330.4,314.3 331.4,315.1 332.2,316.7C333.0,318.3 333.5,321.4 334.4,324.0C335.2,326.6 336.1,329.6 337.3,332.0C338.5,334.4 340.1,336.0 341.7,338.6C343.3,341.2 345.5,346.2 346.8,347.8C348.1,349.4 348.1,349.0 349.7,348.5C351.3,348.0 354.5,345.2 356.3,344.9C358.1,344.6 358.8,345.5 360.7,346.6C362.6,347.7 365.3,350.4 368.0,351.7C370.7,353.0 373.9,353.5 376.8,354.3C379.7,355.1 382.9,355.7 385.5,356.4C388.1,357.1 390.3,357.8 392.5,358.5C394.7,359.2 396.8,359.9 398.5,360.5C400.2,361.1 401.4,361.9 403.0,362.2C404.6,362.5 407.0,362.8 408.2,362.4C409.4,362.0 409.7,362.0 410.4,359.7C411.1,357.4 411.9,354.0 412.6,348.8C413.3,343.6 414.1,333.6 414.8,328.4C415.5,323.2 415.9,319.7 416.6,317.4C417.3,315.1 418.4,314.5 419.2,314.5C420.0,314.5 420.3,314.7 421.4,317.4C422.5,320.1 424.1,326.9 425.8,330.5C427.5,334.1 429.7,336.2 431.6,339.3C433.5,342.4 435.8,347.3 437.4,348.8C439.0,350.3 439.5,348.6 441.1,348.1C442.7,347.6 445.2,345.7 446.9,345.6C448.6,345.5 449.4,346.2 451.3,347.3C453.2,348.4 456.2,351.0 458.6,352.2C461.0,353.4 463.5,353.7 465.9,354.3C468.3,354.9 470.8,355.2 473.2,355.8C475.6,356.4 477.7,356.9 480.5,357.8C483.3,358.7 487.4,360.4 490.0,361.2C492.6,362.0 494.9,362.8 496.4,362.4C497.9,362.0 498.1,361.8 498.9,359.0C499.7,356.2 500.4,351.2 501.1,345.9C501.8,340.5 502.5,332.1 503.2,326.9C503.9,321.7 504.4,316.9 505.1,314.5C505.8,312.1 506.5,312.3 507.2,312.3C507.9,312.3 508.1,311.9 509.1,314.5C510.2,317.1 511.7,323.7 513.5,327.6C515.3,331.5 517.8,334.5 520.0,337.8C522.2,341.1 524.6,346.0 526.6,347.3C528.6,348.6 530.1,346.4 531.7,345.9C533.3,345.4 534.6,344.3 536.1,344.4C537.6,344.5 538.5,345.4 540.5,346.6C542.5,347.8 544.9,350.1 547.8,351.4C550.7,352.7 554.8,353.5 558.0,354.3C561.2,355.1 563.9,355.5 566.8,356.4C569.7,357.3 573.2,358.8 575.5,359.7C577.8,360.6 579.0,361.1 580.5,361.5C582.0,361.9 583.5,362.8 584.6,362.2C585.8,361.6 586.6,360.8 587.4,357.9C588.2,355.0 588.5,349.9 589.2,344.9C589.9,339.9 590.9,332.6 591.5,328.0C592.1,323.4 592.4,319.7 593.0,317.3C593.6,314.9 594.5,313.7 595.3,313.4C596.1,313.1 596.5,313.0 597.6,315.7C598.8,318.4 600.4,325.7 602.2,329.5C604.0,333.3 606.4,335.6 608.4,338.7C610.4,341.8 612.8,346.6 614.5,347.9C616.2,349.2 617.1,347.0 618.5,346.5C619.9,346.0 621.5,344.7 622.9,344.9C624.3,345.1 625.5,346.6 627.0,347.5C628.5,348.4 630.2,349.4 632.1,350.2C634.0,351.0 635.4,351.6 638.2,352.5C641.0,353.4 645.7,354.4 649.0,355.3C652.3,356.2 655.5,356.7 658.2,357.6C660.9,358.5 662.7,359.7 665.1,360.5C667.5,361.3 670.8,363.2 672.7,362.5C674.6,361.8 675.5,357.6 676.6,356.3C677.8,355.0 679.0,359.3 679.6,354.8C680.2,350.3 680.3,333.7 680.4,329.5" fill="none" stroke="#6262f8" stroke-width="1" clip-path="url(#cb)"/>
<use href="#abp" transform="translate(0,116.5)"/>
<rect x="315.40" y="476.40" width="5.4" height="5.4" fill="#ee1a0a" stroke="#5a1010" stroke-width="0.55"/><circle cx="318.10" cy="479.10" r="1.7" fill="#00002a" stroke="#2a2aa0" stroke-width="0.4"/>
<rect x="405.10" y="476.90" width="5.4" height="5.4" fill="#ee1a0a" stroke="#5a1010" stroke-width="0.55"/><circle cx="407.80" cy="479.60" r="1.7" fill="#00002a" stroke="#2a2aa0" stroke-width="0.4"/>
<rect x="493.70" y="476.40" width="5.4" height="5.4" fill="#ee1a0a" stroke="#5a1010" stroke-width="0.55"/><circle cx="496.40" cy="479.10" r="1.7" fill="#00002a" stroke="#2a2aa0" stroke-width="0.4"/>
<rect x="581.60" y="475.90" width="5.4" height="5.4" fill="#ee1a0a" stroke="#5a1010" stroke-width="0.55"/><circle cx="584.30" cy="478.60" r="1.7" fill="#00002a" stroke="#2a2aa0" stroke-width="0.4"/>
<rect x="670.00" y="476.30" width="5.4" height="5.4" fill="#ee1a0a" stroke="#5a1010" stroke-width="0.55"/><circle cx="672.70" cy="479.00" r="1.7" fill="#00002a" stroke="#2a2aa0" stroke-width="0.4"/>
<path d="M326.70,430.20L331.90,430.20M327.46,428.36L331.14,432.04M329.30,427.60L329.30,432.80M331.14,428.36L327.46,432.04" stroke="#f0cf80" stroke-width="0.7" fill="none"/>
<path d="M416.60,430.50L421.80,430.50M417.36,428.66L421.04,432.34M419.20,427.90L419.20,433.10M421.04,428.66L417.36,432.34" stroke="#f0cf80" stroke-width="0.7" fill="none"/>
<path d="M504.30,429.10L509.50,429.10M505.06,427.26L508.74,430.94M506.90,426.50L506.90,431.70M508.74,427.26L505.06,430.94" stroke="#f0cf80" stroke-width="0.7" fill="none"/>
<path d="M592.70,429.50L597.90,429.50M593.46,427.66L597.14,431.34M595.30,426.90L595.30,432.10M597.14,427.66L593.46,431.34" stroke="#f0cf80" stroke-width="0.7" fill="none"/>
<path d="M349.00,462.04L351.35,466.14L346.65,466.14Z" fill="#2a7d2a" stroke="#173f17" stroke-width="0.4"/>
<path d="M437.40,463.04L439.75,467.14L435.05,467.14Z" fill="#2a7d2a" stroke="#173f17" stroke-width="0.4"/>
<path d="M526.90,461.34L529.25,465.44L524.55,465.44Z" fill="#2a7d2a" stroke="#173f17" stroke-width="0.4"/>
<path d="M614.90,462.34L617.25,466.44L612.55,466.44Z" fill="#2a7d2a" stroke="#173f17" stroke-width="0.4"/>
<path d="M356.30,459.15L358.75,461.60L356.30,464.05L353.85,461.60Z" fill="#e8dc48" stroke="#8a8a40" stroke-width="0.5"/>
<path d="M446.20,459.55L448.65,462.00L446.20,464.45L443.75,462.00Z" fill="#e8dc48" stroke="#8a8a40" stroke-width="0.5"/>
<path d="M534.60,458.45L537.05,460.90L534.60,463.35L532.15,460.90Z" fill="#e8dc48" stroke="#8a8a40" stroke-width="0.5"/>
<path d="M622.60,458.95L625.05,461.40L622.60,463.85L620.15,461.40Z" fill="#e8dc48" stroke="#8a8a40" stroke-width="0.5"/>
<text x="292" y="555.3" class="th">SBP (mmHg)</text><text x="351" y="555.3" class="th">DBP (mmHg)</text><text x="405.7" y="555.3" class="th">MAP (mmHg)</text>
<text x="287" y="569.2" class="td">111, 110, 113, 112</text><text x="351" y="569.2" class="td">49, 50, 50, 50</text><text x="405.7" y="569.2" class="td">70, 70, 71, 70</text>
</svg>
</body></html>
